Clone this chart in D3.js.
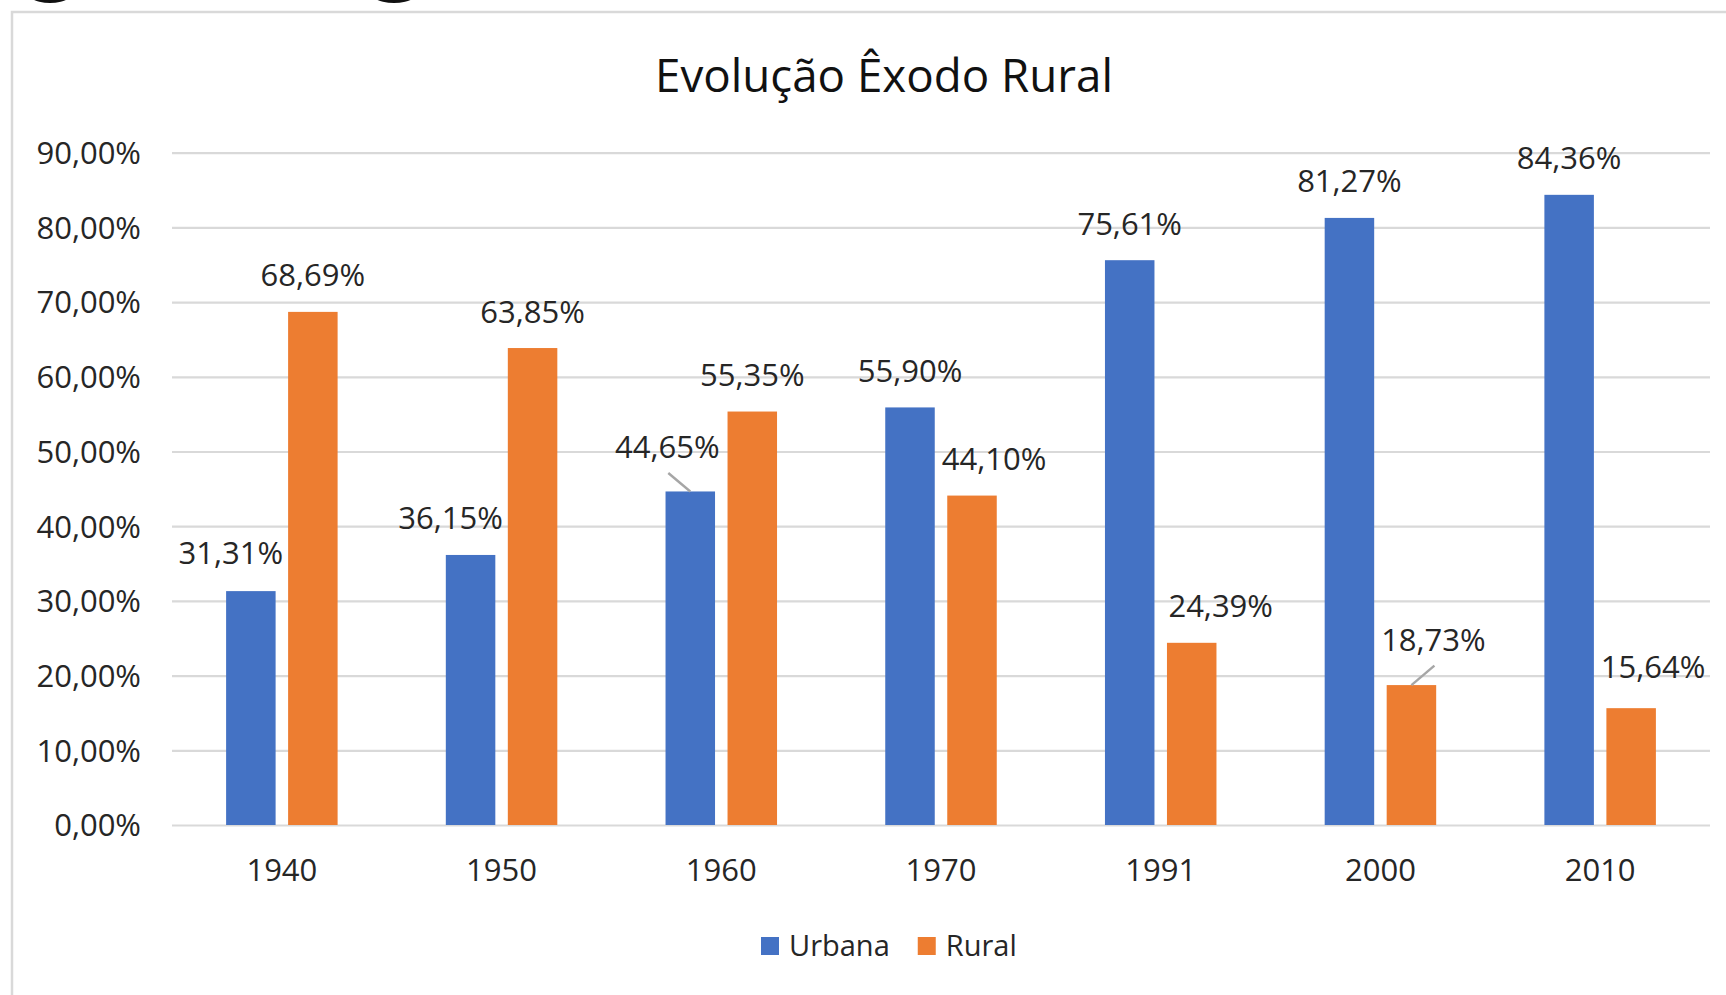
<!DOCTYPE html>
<html><head><meta charset="utf-8">
<script src="https://cdn.jsdelivr.net/npm/d3@7"></script>
<style>html,body{margin:0;padding:0;background:#fff;overflow:hidden}</style>
</head><body><svg id="c" width="1726" height="995"></svg>
<script>
// ---- data ----
const categories = ["1940", "1950", "1960", "1970", "1991", "2000", "2010"];
const seriesNames = ["Urbana", "Rural"];
const urbana = [31.31, 36.15, 44.65, 55.90, 75.61, 81.27, 84.36];
const rural  = [68.69, 63.85, 55.35, 44.10, 24.39, 18.73, 15.64];
const yTicks = [0, 10, 20, 30, 40, 50, 60, 70, 80, 90];
const chartTitle = "Evolução Êxodo Rural";

// ---- layout / style ----
const colors = {Urbana: "#4472C4", Rural: "#ED7D31"};
const labelNudge = {
  Urbana: [[-20, -2], [-20, 0], [-23, -8], [0, 0], [0, 0], [0, 0], [0, 0]],
  Rural:  [[0, 0], [0, 0], [0, 0], [22, 0], [29, 0], [22, -9], [22, -5]]
};
const leaderFlags = {
  Urbana: [false, false, true, false, false, false, false],
  Rural:  [false, false, false, false, false, true, false]
};
const FONT = "'Open Sans', 'Noto Sans', sans-serif";
const TXT = "#262626";
const FS = 31;

const svg = d3.select("#c");
svg.append("rect").attr("width", 1726).attr("height", 995).attr("fill", "#fff");

// artifacts of cut-off text at top
svg.append("ellipse").attr("cx", 50).attr("cy", -14).attr("rx", 28).attr("ry", 17).attr("fill", "#111");
svg.append("ellipse").attr("cx", 394).attr("cy", -14).attr("rx", 29).attr("ry", 17).attr("fill", "#111");

// chart area border
svg.append("rect").attr("x", 12).attr("y", 12).attr("width", 1800).attr("height", 1100)
  .attr("fill", "none").attr("stroke", "#d9d9d9").attr("stroke-width", 2.5);

const x0 = d3.scaleBand().domain(categories).range([172, 1710]).paddingInner(0).paddingOuter(0);
const x1 = d3.scaleBand().domain(seriesNames).range([0, x0.bandwidth()]).paddingInner(0.2016).paddingOuter(0.8726);
const y = d3.scaleLinear().domain([0, 90]).range([825, 152.7]);

const loc = d3.formatLocale({decimal: ",", thousands: ".", grouping: [3], currency: ["R$", ""]});
const fmt = v => loc.format(".2f")(v) + "%";

// gridlines + y labels
const yAxis = d3.axisLeft(y).tickValues(yTicks).tickSize(-(1710 - 172)).tickFormat(fmt).tickPadding(31);
const gy = svg.append("g").attr("transform", "translate(172,0)").call(yAxis);
gy.select(".domain").remove();
gy.selectAll(".tick line").attr("stroke", "#d9d9d9").attr("stroke-width", 2.2);
gy.selectAll(".tick text").attr("font-family", FONT).attr("font-size", FS).attr("fill", TXT)
  .attr("dy", "0.35em");

// x axis labels
const xAxis = d3.axisBottom(x0).tickSize(0).tickPadding(0);
const gx = svg.append("g").attr("transform", "translate(0,825)").call(xAxis);
gx.select(".domain").remove();
gx.selectAll(".tick text").attr("font-family", FONT).attr("font-size", FS).attr("fill", TXT)
  .attr("dy", null).attr("y", 56);

// bars
const rows = categories.map((c, i) => ({cat: c, i, Urbana: urbana[i], Rural: rural[i]}));
const groups = svg.append("g").selectAll("g").data(rows).join("g")
  .attr("transform", d => `translate(${x0(d.cat)},0)`);
groups.selectAll("rect").data(d => seriesNames.map(s => ({s, v: d[s], i: d.i}))).join("rect")
  .attr("x", d => x1(d.s)).attr("width", x1.bandwidth())
  .attr("y", d => y(d.v)).attr("height", d => y(0) - y(d.v))
  .attr("fill", d => colors[d.s]);

// data labels
const lab = svg.append("g");
rows.forEach(r => {
  seriesNames.forEach(s => {
    const v = r[s];
    const cx = x0(r.cat) + x1(s) + x1.bandwidth() / 2;
    const top = y(v);
    const [dx, dy] = labelNudge[s][r.i];
    const lx = cx + dx, ly = top - 25.5 + dy;
    if (leaderFlags[s][r.i]) {
      lab.append("line").attr("x1", cx).attr("y1", top).attr("x2", lx + 1).attr("y2", ly + 15)
        .attr("stroke", "#a6a6a6").attr("stroke-width", 2.4);
    }
    lab.append("text").attr("x", lx).attr("y", ly).attr("text-anchor", "middle")
      .attr("font-family", FONT).attr("font-size", FS).attr("fill", TXT).text(fmt(v));
  });
});

// title (fit to width)
const t = svg.append("text").attr("x", 884).attr("y", 92).attr("text-anchor", "middle")
  .attr("font-family", FONT).attr("font-size", 100).attr("fill", "#111").text(chartTitle);
const tw = t.node().getComputedTextLength();
t.attr("font-size", 100 * 458 / tw);

// legend
const leg = svg.append("g");
let lx = 761;
seriesNames.forEach(s => {
  leg.append("rect").attr("x", lx).attr("y", 937).attr("width", 18).attr("height", 18).attr("fill", colors[s]);
  const tt = leg.append("text").attr("x", lx + 28).attr("y", 956).attr("font-family", FONT)
    .attr("font-size", 29).attr("fill", TXT).text(s);
  lx = lx + 28 + tt.node().getComputedTextLength() + 28;
});
</script>
</body></html>
